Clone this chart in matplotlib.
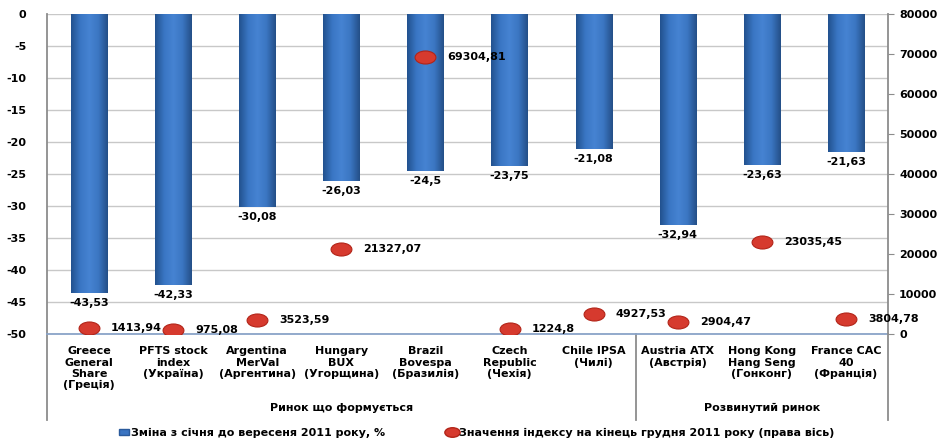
import matplotlib
matplotlib.use('Agg')
import matplotlib.pyplot as plt
import numpy as np
from matplotlib.path import Path
from matplotlib.transforms import Affine2D
from matplotlib.colors import LinearSegmentedColormap
from matplotlib.lines import Line2D
from matplotlib.patches import Patch

plt.rcParams['font.family'] = ['DejaVu Sans']
plt.rcParams['font.weight'] = 'bold'
plt.rcParams['axes.unicode_minus'] = False

categories = ['Greece\nGeneral\nShare\n(Греція)', 'PFTS stock\nindex\n(Україна)',
              'Argentina\nMerVal\n(Аргентина)', 'Hungary\nBUX\n(Угорщина)',
              'Brazil\nBovespa\n(Бразилія)', 'Czech\nRepublic\n(Чехія)',
              'Chile IPSA\n(Чилі)', 'Austria ATX\n(Австрія)',
              'Hong Kong\nHang Seng\n(Гонконг)', 'France CAC\n40\n(Франція)']
change_pct = [-43.53, -42.33, -30.08, -26.03, -24.5, -23.75, -21.08, -32.94, -23.63, -21.63]
index_value = [1413.94, 975.08, 3523.59, 21327.07, 69304.81, 1224.8, 4927.53, 2904.47, 23035.45, 3804.78]
bar_labels = ['-43,53', '-42,33', '-30,08', '-26,03', '-24,5', '-23,75', '-21,08', '-32,94', '-23,63', '-21,63']
point_labels = ['1413,94', '975,08', '3523,59', '21327,07', '69304,81', '1224,8', '4927,53', '2904,47', '23035,45', '3804,78']
groups = ['Ринок що формується', 'Розвинутий ринок']
group_sizes = [7, 3]

fs = 8.0

fig = plt.figure(figsize=(9.44, 4.41), dpi=100)
ax = fig.add_axes([47/944, 1-334/441, (888-47)/944, 320/441])
ax2 = ax.twinx()

x = np.arange(len(categories))
bars = ax.bar(x, change_pct, width=0.43, color='#3a74c2', zorder=2)

# cylinder-like shading
cmap = LinearSegmentedColormap.from_list('cyl', ['#22528f', '#3a76c4', '#4683d2', '#3b76c2', '#244f88'])
grad = np.linspace(0, 1, 64).reshape(1, -1)
for b in bars:
    x0 = b.get_x()
    x1 = x0 + b.get_width()
    y0 = b.get_y() + b.get_height()
    im = ax.imshow(grad, extent=[x0, x1, y0, 0], aspect='auto', cmap=cmap, zorder=2.5)
    im.set_clip_path(b)

for xi, v, lab in zip(x, change_pct, bar_labels):
    ax.annotate(lab, (xi, v), xytext=(0, -10), textcoords='offset pixels',
                ha='center', va='center', fontsize=fs, fontweight='bold', zorder=5)

ax.set_xlim(-0.5, len(categories) - 0.5)
ax.set_ylim(-50, 0)
ax.set_yticks(np.arange(-50, 1, 5))
ax.grid(axis='y', color='#c8c8c8', linewidth=1, zorder=0)
ax.set_axisbelow(True)
ax.set_xticks(x)
ax.set_xticklabels(categories, fontsize=fs, fontweight='bold', linespacing=1.15)
ax.tick_params(axis='x', length=0, pad=9)
ax.tick_params(axis='y', length=0, labelsize=fs, pad=15)
for lab in ax.get_yticklabels():
    lab.set_fontweight('bold')
for s in ['top', 'right']:
    ax.spines[s].set_visible(False)
ax.spines['left'].set_color('#8c8c8c')
ax.spines['left'].set_linewidth(1.3)
ax.spines['bottom'].set_color('#8aa4c8')
ax.spines['bottom'].set_linewidth(1.3)

# ellipse marker
ell = Path.unit_circle().transformed(Affine2D().scale(1.6, 1.0))
ax2.plot(x, index_value, linestyle='none', marker=ell, markersize=15,
         markerfacecolor='#d63a2e', markeredgecolor='#b22418', markeredgewidth=0.8, zorder=6)
for xi, v, lab in zip(x, index_value, point_labels):
    ax2.annotate(lab, (xi, v), xytext=(22, 0), textcoords='offset pixels',
                 ha='left', va='center', fontsize=fs, fontweight='bold', zorder=7)
ax2.set_ylim(0, 80000)
ax2.set_yticks(np.arange(0, 80001, 10000))
ax2.tick_params(axis='y', length=4, color='#8c8c8c', labelsize=fs, pad=4)
for lab in ax2.get_yticklabels():
    lab.set_fontweight('bold')
for s in ['top', 'left', 'bottom']:
    ax2.spines[s].set_visible(False)
ax2.spines['right'].set_color('#8c8c8c')
ax2.spines['right'].set_linewidth(1.3)

# group labels and separators
trans = ax.get_xaxis_transform()
ybot = -(420 - 334) / 320
start = 0
bounds = [-0.5]
for g, n in zip(groups, group_sizes):
    mid = start + (n - 1) / 2
    ax.text(mid, -(408 - 334) / 320, g, transform=trans, ha='center', va='center',
            fontsize=fs, fontweight='bold')
    start += n
    bounds.append(start - 0.5)
for bx in bounds:
    ax.plot([bx, bx], [0, ybot], transform=trans, color='#8c8c8c', linewidth=1.3, clip_on=False)

handles = [Patch(facecolor='#3a74c2', edgecolor='#2a5a9c'),
           Line2D([], [], linestyle='none', marker=ell, markersize=11,
                  markerfacecolor='#d63a2e', markeredgecolor='#b22418')]
fig.legend(handles, ['Зміна з січня до вересеня 2011 року, %',
                     'Значення індексу на кінець грудня 2011 року (права вісь)'],
           loc='center', bbox_to_anchor=(0.505, 1 - 433/441), ncol=2, frameon=False,
           prop={'size': fs, 'weight': 'bold'}, handlelength=0.9, handleheight=0.5,
           handletextpad=0.2, columnspacing=5.5)

fig.savefig('out.png', dpi=100)
